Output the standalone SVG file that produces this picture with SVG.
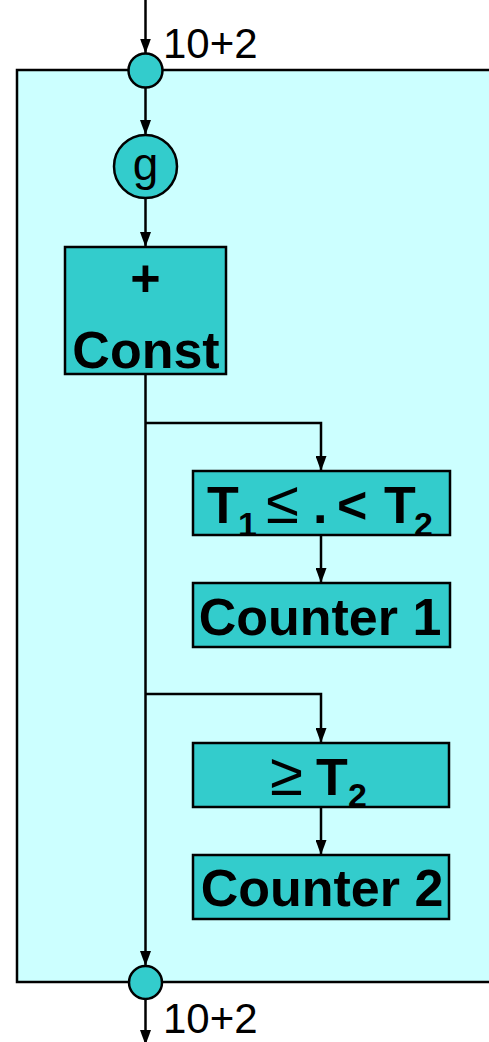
<svg xmlns="http://www.w3.org/2000/svg" width="489" height="1042" viewBox="0 0 489 1042">
  <style>
    .frame { fill: #CCFFFF; stroke: #000; stroke-width: 2.5; }
    .box { fill: #33CCCC; stroke: #000; stroke-width: 2.5; }
    .port { fill: #33CCCC; stroke: #000; stroke-width: 2.5; }
    .wire { fill: none; stroke: #000; stroke-width: 2.5; }
    .lbl { font-family: "Liberation Sans", Arial, sans-serif; fill: #000; }
    .big { font-size: 52px; font-weight: bold; }
    .sub { font-size: 34px; font-weight: bold; }
    .rel { font-size: 60px; font-weight: normal; }
    .io { font-size: 42px; }
  </style>
  <defs>
    <marker id="arrow" markerUnits="userSpaceOnUse" markerWidth="15" markerHeight="11" refX="15" refY="5.5" orient="auto">
      <path d="M0,0 L15,5.5 L0,11 z" fill="#000"/>
    </marker>
  </defs>

  <!-- enclosing block -->
  <rect class="frame" x="17" y="70" width="500" height="912"/>

  <!-- connectors -->
  <g id="connectors">
    <line class="wire" x1="145.5" y1="0" x2="145.5" y2="53.5" marker-end="url(#arrow)"/>
    <line class="wire" x1="145.5" y1="87.5" x2="145.5" y2="135" marker-end="url(#arrow)"/>
    <line class="wire" x1="145.5" y1="198" x2="145.5" y2="247" marker-end="url(#arrow)"/>
    <line class="wire" x1="145.5" y1="374" x2="145.5" y2="966" marker-end="url(#arrow)"/>
    <polyline class="wire" points="145.5,423 321,423 321,471" marker-end="url(#arrow)"/>
    <line class="wire" x1="321" y1="535" x2="321" y2="583" marker-end="url(#arrow)"/>
    <polyline class="wire" points="145.5,694 321,694 321,743" marker-end="url(#arrow)"/>
    <line class="wire" x1="321" y1="807" x2="321" y2="855" marker-end="url(#arrow)"/>
    <line class="wire" x1="145.5" y1="999" x2="145.5" y2="1045" marker-end="url(#arrow)"/>
  </g>

  <!-- input port -->
  <g id="in-port">
    <circle class="port" cx="145.5" cy="70.5" r="17"/>
    <text class="lbl io" x="163" y="58">10+2</text>
  </g>

  <!-- gain -->
  <g id="gain">
    <circle class="port" cx="145.5" cy="166.5" r="31.5"/>
    <text class="lbl" x="145.5" y="180" font-size="46" text-anchor="middle">g</text>
  </g>

  <!-- adder with constant -->
  <g id="add-const">
    <rect class="box" x="65" y="247" width="161" height="127"/>
    <text class="lbl big" x="145.5" y="296" text-anchor="middle">+</text>
    <text class="lbl big" x="146" y="368" text-anchor="middle">Const</text>
  </g>

  <!-- range test -->
  <g id="range-test">
    <rect class="box" x="193" y="471" width="257" height="64"/>
    <text class="lbl big" y="523"><tspan x="207">T</tspan><tspan class="sub" x="238" y="536">1</tspan><tspan class="rel" x="266" y="523">≤</tspan><tspan x="313">.</tspan><tspan x="337">&lt;</tspan><tspan x="384">T</tspan><tspan class="sub" x="414" y="536">2</tspan></text>
  </g>

  <!-- counter 1 -->
  <g id="counter1">
    <rect class="box" x="193" y="583" width="257" height="64"/>
    <text class="lbl big" x="320" y="635" text-anchor="middle">Counter 1</text>
  </g>

  <!-- upper threshold test -->
  <g id="upper-test">
    <rect class="box" x="193" y="743" width="256" height="64"/>
    <text class="lbl big" y="795"><tspan class="rel" x="270">≥</tspan><tspan x="316">T</tspan><tspan class="sub" x="348" y="807">2</tspan></text>
  </g>

  <!-- counter 2 -->
  <g id="counter2">
    <rect class="box" x="193" y="855" width="256" height="64"/>
    <text class="lbl big" x="322" y="906" text-anchor="middle">Counter 2</text>
  </g>

  <!-- output port -->
  <g id="out-port">
    <circle class="port" cx="145.5" cy="982.5" r="16.5"/>
    <text class="lbl io" x="163" y="1033">10+2</text>
  </g>
</svg>
